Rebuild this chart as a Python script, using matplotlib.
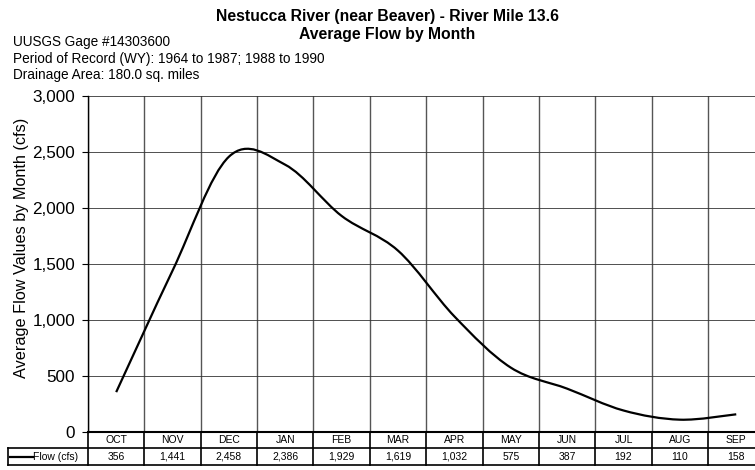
import numpy as np
import matplotlib.pyplot as plt
from matplotlib.path import Path
from matplotlib.patches import PathPatch

plt.rcParams['font.family'] = ['Liberation Sans', 'DejaVu Sans']

# data
months = ['OCT', 'NOV', 'DEC', 'JAN', 'FEB', 'MAR', 'APR', 'MAY', 'JUN', 'JUL', 'AUG', 'SEP']
flow = [356, 1441, 2458, 2386, 1929, 1619, 1032, 575, 387, 192, 110, 158]
series_name = 'Flow (cfs)'
y_ticks = [0, 500, 1000, 1500, 2000, 2500, 3000]

title = 'Nestucca River (near Beaver) - River Mile 13.6\nAverage Flow by Month'
notes = ['UUSGS Gage #14303600',
         'Period of Record (WY): 1964 to 1987; 1988 to 1990',
         'Drainage Area: 180.0 sq. miles']
y_label = 'Average Flow Values by Month (cfs)'

W, H = 755, 470
fig = plt.figure(figsize=(W / 100, H / 100), dpi=100)
# plot area in pixels: left 88, top 96, bottom 432, category width ~56.4 (right side is cut off)
ax_w = 56.37 * len(months)
ax = fig.add_axes([88 / W, 1 - 432 / H, ax_w / W, 336 / H])

x = np.arange(len(months))
y = np.array(flow, dtype=float)

# smoothed line like the spreadsheet one: cubic bezier through every point
n = len(x)
verts = [(x[0], y[0])]
codes = [Path.MOVETO]
for i in range(n - 1):
    p0 = np.array([x[max(i - 1, 0)], y[max(i - 1, 0)]])
    p1 = np.array([x[i], y[i]])
    p2 = np.array([x[i + 1], y[i + 1]])
    p3 = np.array([x[min(i + 2, n - 1)], y[min(i + 2, n - 1)]])
    c1 = p1 + (p2 - p0) / 6
    c2 = p2 - (p3 - p1) / 6
    verts += [tuple(c1), tuple(c2), tuple(p2)]
    codes += [Path.CURVE4] * 3
ax.add_patch(PathPatch(Path(verts, codes), fill=False, lw=1.6, edgecolor='black', zorder=3))

ax.set_xlim(-0.5, n - 0.5)
ax.set_ylim(0, 3000)
ax.set_yticks(y_ticks)
ax.set_yticklabels([f'{v:,}' for v in y_ticks], fontsize=12.3)
ax.tick_params(axis='y', direction='out', length=4.3, width=0.8, pad=5)
ax.set_xticks(np.arange(n + 1) - 0.5)
ax.set_xticklabels([])
ax.tick_params(axis='x', length=0)
ax.grid(axis='y', color='#333333', lw=0.6)
ax.grid(axis='x', color='#555555', lw=1.0)
ax.set_axisbelow(True)
for s in ['top', 'right']:
    ax.spines[s].set_visible(False)
ax.spines['left'].set_linewidth(1.0)
ax.spines['bottom'].set_linewidth(1.5)
ax.set_ylabel(y_label, fontsize=11.7)
ax.yaxis.set_label_coords(-59 / ax_w, 0.548)

# data table under the plot
px = 1 / 336  # one pixel in axes-fraction units (vertical)
row1 = -16 * px
row2 = -33 * px
xt = ax.get_xaxis_transform()
lab_left = -80 / ax_w
for b in np.arange(n + 1) - 0.5:
    ax.plot([b, b], [0, row2], transform=xt, color='black', lw=1.2, clip_on=False)
ax.plot([lab_left, 1], [row1, row1], transform=ax.transAxes, color='black', lw=1.2, clip_on=False)
ax.plot([lab_left, 1], [row2, row2], transform=ax.transAxes, color='black', lw=1.2, clip_on=False)
ax.plot([lab_left, lab_left], [row1, row2], transform=ax.transAxes, color='black', lw=1.2, clip_on=False)
for i, m in enumerate(months):
    ax.text(x[i], row1 / 2, m, transform=xt, ha='center', va='center', fontsize=7.5)
    ax.text(x[i], (row1 + row2) / 2, f'{flow[i]:,}', transform=xt, ha='center', va='center', fontsize=7.5)
# legend key inside label cell
ax.plot([-78 / ax_w, -55 / ax_w], [(row1 + row2) / 2] * 2, transform=ax.transAxes,
        color='black', lw=1.6, clip_on=False)
ax.text(-55 / ax_w, (row1 + row2) / 2, series_name, transform=ax.transAxes,
        ha='left', va='center', fontsize=7.5)

# titles and notes
fig.text(387 / W, 1 - 25 / H, title, ha='center', va='center', fontsize=11.3,
         fontweight='bold', linespacing=1.25)
for k, t in enumerate(notes):
    fig.text(13 / W, 1 - (42 + 16.5 * k) / H, t, ha='left', va='center', fontsize=9.8)

fig.savefig('out.png', dpi=100)
